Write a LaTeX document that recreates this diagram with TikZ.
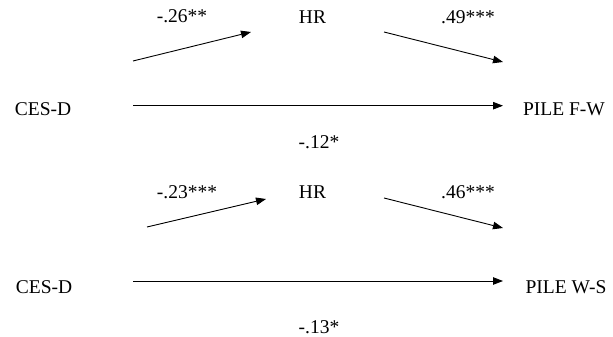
\documentclass[tikz,border=0pt]{standalone}
\usepackage{fontspec}
\setmainfont{Liberation Serif}
\usepackage{tikz}
\usetikzlibrary{positioning, arrows.meta}

\tikzset{
  lbl/.style={anchor=base, inner sep=0pt, font=\fontsize{19.5}{22}\selectfont},
  path/.style={line width=0.9pt, -{Triangle[length=10pt, width=7.5pt]}}
}

\begin{document}
\begin{tikzpicture}[x=1pt, y=-1pt]
  \useasboundingbox (0,0) rectangle (613,337);
  % primo modello: CES-D -> HR -> PILE F-W
  \node[lbl] (a1) at (182,22.5) {-.26**};
  \node[lbl] (hr1) at (312.5,24) {HR};
  \node[lbl] (b1) at (468,23.5) {.49***};
  \node[lbl] (ces1) at (43,115) {CES-D};
  \node[lbl] (pile1) at (564,115) {PILE F-W};
  \node[lbl] (c1) at (319,148) {-.12*};
  \coordinate (s1) at (133,61);   \coordinate (e1) at (251,32);
  \coordinate (s2) at (384,32);   \coordinate (e2) at (503,62);
  \coordinate (s3) at (133,105.7); \coordinate (e3) at (503,105.7);
  \draw[path] (s1) -- (e1);
  \draw[path] (s2) -- (e2);
  \draw[path] (s3) -- (e3);
  % secondo modello: CES-D -> HR -> PILE W-S
  \node[lbl] (a2) at (187,198) {-.23***};
  \node[lbl] (hr2) at (312.5,198) {HR};
  \node[lbl] (b2) at (468,198) {.46***};
  \node[lbl] (ces2) at (44,293.5) {CES-D};
  \node[lbl] (pile2) at (566,293.5) {PILE W-S};
  \node[lbl] (c2) at (319,333.5) {-.13*};
  \coordinate (s4) at (147,227);  \coordinate (e4) at (266,199);
  \coordinate (s5) at (384,198);  \coordinate (e5) at (503,228);
  \coordinate (s6) at (133,281);  \coordinate (e6) at (503,281);
  \draw[path] (s4) -- (e4);
  \draw[path] (s5) -- (e5);
  \draw[path] (s6) -- (e6);
\end{tikzpicture}
\end{document}
